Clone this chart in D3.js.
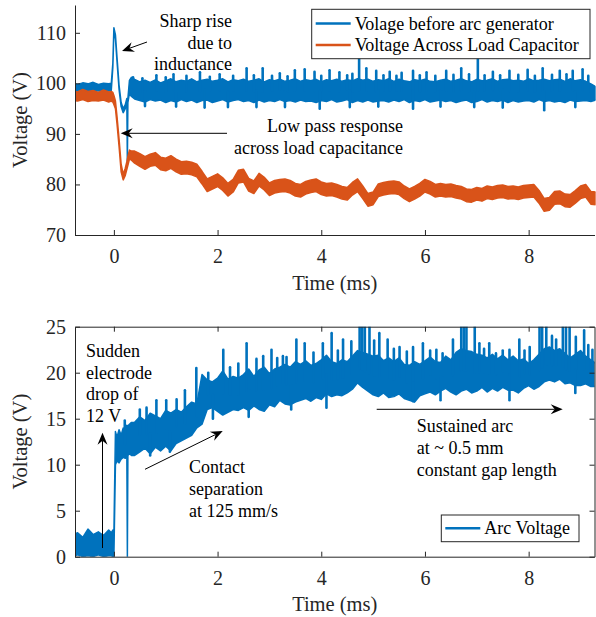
<!DOCTYPE html>
<html><head><meta charset="utf-8">
<script src="https://cdn.jsdelivr.net/npm/d3@7"></script>
<style>
html,body{margin:0;padding:0;background:#fff;}
svg{display:block;}
svg text{font-family:"Liberation Serif","Times New Roman",Times,serif;}
</style></head><body>
<svg id="chart" width="596" height="617" font-family='"Liberation Serif","Times New Roman",serif'></svg>
<script>
// ---------------- DATA ----------------
// sample times (ms): pre-event, transient, steady part
const preTimes = d3.range(-0.8, -0.05, 0.1);                       // 8 samples
const stepTimes = [-0.05,-0.02,0,0.03,0.06,0.1,0.14,0.18,0.22,0.25,0.26,0.27,0.3,0.34]; // 14
const mainTimes = d3.range(0.4, 9.35, 0.1);                        // 90 samples
const times = preTimes.concat(stepTimes, mainTimes);

// Volage before arc generator (V): dense core of the noisy trace (upper / lower)
const blueHi = [
 100.0, 99.8,100.1, 99.9,100.2, 99.8,100.0, 99.9,
 100.0,104.0,111.0,109.6,105.2, 99.6, 96.2, 95.0, 95.8, 97.0, 96.6, 97.0,100.6,101.2,
 100.8,100.3,100.6,100.2,100.7,100.1,100.5,100.9,100.3,100.6,
 100.4,100.9,100.3,100.6,100.8,100.4,100.6,100.9,100.3,100.7,
 100.5,100.8,100.4,100.6,100.9,100.3,100.7,100.5,100.8,100.4,
 100.6,100.9,100.4,100.7,100.5,100.8,100.3,100.7,100.5,100.8,
 100.4,100.7,100.5,100.9,100.6,100.8,100.4,100.7,100.5,100.9,
 100.4,100.8,100.5,100.3,100.7,100.5,100.8,100.4,100.3,100.6,
 100.8,100.4,100.6,100.9,100.5,100.3,100.8,100.5,100.6,100.9,
 100.4,100.7,100.8,100.5,100.6,100.4,100.9,100.5,100.6,100.8,
 100.5,100.7,100.8,100.4,100.9,100.5,100.7,100.4, 99.9, 99.3];
const blueLo = [
  98.6, 98.5, 98.7, 98.4, 98.6, 98.5, 98.6, 98.5,
  98.6,103.2,110.2,108.8,104.4, 98.8, 95.4, 94.2, 95.0, 96.2, 84.0, 96.2, 98.0, 97.4,
  96.9, 96.6, 96.3, 96.8, 96.5, 96.7, 96.2, 96.6, 96.3, 96.8,
  96.4, 96.7, 96.2, 96.6, 96.7, 96.2, 96.5, 96.8, 96.3, 96.6,
  96.8, 96.4, 96.6, 96.2, 96.7, 96.3, 96.6, 96.4, 96.8, 96.4,
  96.6, 96.3, 96.7, 96.4, 96.5, 96.2, 96.6, 96.4, 96.8, 96.3,
  96.5, 96.8, 96.2, 96.6, 96.3, 96.7, 96.3, 96.5, 96.6, 96.3,
  96.7, 96.4, 96.8, 96.2, 96.6, 96.4, 96.8, 96.3, 96.5, 96.7,
  96.4, 96.6, 96.2, 96.5, 96.7, 96.2, 96.4, 96.8, 96.3, 96.6,
  96.4, 96.7, 96.2, 96.6, 96.3, 96.5, 96.6, 96.3, 96.8, 96.4,
  96.6, 96.3, 96.5, 96.2, 96.7, 96.4, 96.5, 96.6, 96.4, 96.7];
// thin noise spikes of the same trace: time (ms) and tip value (V)
const blueSpikeT = [0.37,0.55,0.82,1.0,1.15,1.4,1.66,1.85,2.04,2.3,2.56,2.7,2.87,3.05,3.2,3.35,3.49,3.68,
  3.87,4.0,4.16,4.35,4.5,4.6,4.73,4.87,5.06,5.2,5.32,5.45,5.55,5.77,5.9,6.03,6.2,6.41,6.55,6.7,6.85,
  7.02,7.15,7.31,7.45,7.63,7.8,7.98,8.12,8.27,8.45,8.6,8.73,8.85,9.04,9.15,
  0.6,1.2,1.75,2.2,2.75,3.3,3.97,4.55,5.1,5.77,6.3,6.95,7.5,8.3,8.9];
const blueSpikeV = [101.2,101.0,101.6,101.2,101.8,101.5,102.2,101.3,101.8,101.5,103.0,101.6,103.0,101.5,
  102.0,101.4,102.6,102.8,102.3,101.5,102.6,102.2,101.6,101.9,104.8,103.0,102.5,101.6,102.3,101.5,102.1,
  102.5,101.6,102.2,101.5,102.5,101.7,103.0,101.8,104.8,101.6,102.3,101.6,102.5,101.7,102.7,101.5,103.0,
  101.7,102.5,101.8,102.5,102.8,101.5,
  95.5,95.4,95.2,95.3,95.3,95.3,95.0,95.3,95.4,95.0,95.4,95.3,95.2,94.7,95.3];

// Voltage Across Load Capacitor (V)
const orangeHi = [
  98.5, 98.3, 98.8, 98.4, 98.6, 98.2, 98.7, 98.3,
  98.4, 98.2, 97.6, 96.5, 93.5, 89.0, 84.0, 82.0, 83.2, 84.5, 85.0, 85.5, 86.8, 86.6,
  86.6, 86.1, 85.5, 86.0, 86.3, 85.4, 85.2, 85.7, 85.0, 84.5,
  84.6, 84.4, 84.0, 82.6, 81.1, 81.6, 82.1, 81.3, 80.2, 81.0,
  82.8, 83.0, 81.2, 80.7, 82.2, 81.4, 80.3, 80.8, 81.0, 81.1,
  80.8, 80.2, 80.0, 80.6, 80.9, 81.1, 80.5, 80.2, 80.3, 80.0,
  79.6, 79.4, 80.4, 81.1, 79.7, 78.2, 78.5, 80.1, 80.4, 80.6,
  80.7, 80.5, 79.7, 79.1, 79.6, 80.2, 81.0, 80.6, 80.0, 80.2,
  80.0, 80.1, 79.8, 79.6, 79.1, 79.0, 79.4, 79.2, 79.7, 79.5,
  79.8, 79.9, 79.6, 79.7, 79.5, 79.8, 79.9, 80.0, 78.8, 77.2,
  77.4, 78.6, 78.7, 78.1, 78.0, 78.8, 79.7, 80.0, 78.6, 78.5];
const orangeLo = [
  96.6, 96.5, 96.8, 96.4, 96.6, 96.5, 96.7, 96.3,
  96.5, 96.3, 95.8, 95.0, 92.0, 87.5, 82.5, 80.9, 81.8, 83.0, 83.4, 83.8, 85.0, 84.8,
  84.2, 83.6, 83.0, 83.6, 83.8, 82.9, 82.7, 83.2, 82.5, 82.0,
  82.1, 81.9, 81.5, 80.1, 78.6, 79.1, 79.6, 78.8, 77.7, 78.5,
  80.3, 80.5, 78.7, 78.2, 79.7, 78.9, 77.8, 78.3, 78.5, 78.6,
  78.3, 77.7, 77.5, 78.1, 78.4, 78.6, 78.0, 77.7, 77.8, 77.5,
  77.1, 76.9, 77.9, 78.6, 77.2, 75.7, 76.0, 77.6, 77.9, 78.1,
  78.2, 78.0, 77.2, 76.6, 77.1, 77.7, 78.5, 78.1, 77.5, 77.7,
  77.5, 77.6, 77.3, 77.1, 76.6, 76.5, 76.9, 76.7, 77.2, 77.0,
  77.3, 77.4, 77.1, 77.2, 77.0, 77.3, 77.4, 77.5, 76.3, 74.7,
  74.9, 76.1, 76.2, 75.6, 75.5, 76.3, 77.2, 77.5, 76.1, 76.0];

// Arc Voltage (V): dense core
const arcHi = [
   2.3,  2.6,  2.1,  3.0,  2.4,  2.7,  2.3,  2.9,
   2.6,  2.9,  2.5, 13.6, 13.0, 13.8, 13.2, 14.0, 13.5, 14.3, 14.0, 14.2, 14.4, 14.6,
  14.6, 15.2, 14.8, 15.6, 15.3, 15.0, 15.9, 15.6, 16.0, 15.7,
  16.3, 16.8, 16.6, 19.8, 19.2, 19.0, 19.4, 20.2, 19.3, 19.6,
  19.4, 19.8, 20.4, 19.6, 20.3, 20.6, 19.9, 20.4, 20.6, 20.9,
  20.6, 21.2, 20.9, 21.3, 20.8, 21.0, 21.4, 21.9, 21.2, 21.0,
  21.4, 21.2, 21.8, 22.4, 22.2, 22.0, 21.8, 21.9, 21.3, 21.6,
  21.2, 21.6, 20.9, 20.8, 21.2, 20.9, 21.3, 21.7, 21.2, 21.1,
  21.8, 21.4, 22.2, 22.6, 22.4, 22.3, 22.0, 21.9, 21.6, 22.0,
  21.5, 21.9, 21.4, 21.8, 21.3, 21.5, 21.0, 21.4, 22.0, 22.6,
  22.8, 22.4, 22.6, 22.1, 21.6, 22.0, 22.4, 21.8, 21.4, 21.0];
const arcLo = [
   0.0,  0.2,  0.0,  0.1,  0.0,  0.2,  0.0,  0.1,
   0.1,  0.0,  0.0, 10.0, 10.4, 10.2, 10.6, 10.8, 10.7, 11.0,  0.0, 11.0, 11.2, 11.0,
  11.0, 11.4, 11.8, 11.2, 11.9, 11.5, 12.0, 11.5, 12.3, 12.6,
  12.9, 13.2, 14.0, 14.4, 16.0, 16.2, 15.8, 15.4, 15.7, 16.0,
  15.9, 16.2, 15.9, 16.4, 16.0, 15.8, 16.5, 16.3, 17.0, 16.6,
  16.5, 16.8, 17.0, 17.2, 16.9, 17.3, 17.1, 17.7, 17.4, 17.6,
  17.5, 17.8, 18.2, 18.9, 18.4, 18.0, 17.6, 17.4, 17.8, 17.3,
  17.4, 17.7, 17.2, 17.0, 16.8, 17.5, 17.7, 17.9, 17.6, 18.0,
  18.3, 17.9, 17.6, 18.0, 18.2, 17.8, 18.0, 18.4, 17.9, 18.3,
  18.0, 18.4, 18.1, 18.1, 17.8, 18.3, 18.6, 18.2, 18.5, 19.0,
  19.2, 19.0, 19.3, 18.8, 18.9, 18.6, 18.6, 18.8, 18.5, 18.5];
// thin noise spikes of the arc trace: time (ms) and tip value (V)
const arcSpikeT = [0.21,0.5,0.63,0.82,1.01,1.21,1.37,1.59,1.82,2.11,2.24,2.4,2.56,2.75,2.88,3.04,3.15,3.26,
  3.33,3.52,3.68,3.85,4.03,4.2,4.32,4.42,4.58,4.74,4.79,4.84,4.93,5.02,5.12,5.28,5.4,5.51,5.65,5.77,5.96,
  6.1,6.22,6.34,6.54,6.7,6.75,6.8,6.96,7.05,7.14,7.24,7.37,7.5,7.63,7.82,7.92,8.02,8.21,8.26,8.34,8.45,
  8.53,8.66,8.72,8.79,8.91,9.07,9.15,9.23,
  0.7,1.08,1.91,2.6,3.42,4.1,5.77,6.3,7.63,8.9];
const arcSpikeV = [14.8,16.0,16.2,17.0,17.0,17.1,18.1,20.5,20.0,22.5,20.6,21.0,23.2,21.5,21.8,22.5,21.6,21.8,
  21.7,23.6,23.2,22.2,23.2,24.3,22.4,23.6,23.4,26,26,26,26,23.5,24.3,23.6,22.6,22.8,22.3,22.8,23.2,
  22.4,22.5,22.1,23.6,26,26,26,26,23.2,22.6,23.2,22.1,22.4,22.5,23.6,22.4,22.8,26,26,26,24.0,
  23.6,26,26,26,23.9,24.6,23.0,22.5,
  11.0,11.4,15.0,15.2,16.0,16.2,16.9,17.0,17.0,17.8];

const xTicks = [0, 2, 4, 6, 8];
const topYTicks = [70, 80, 90, 100, 110];
const botYTicks = [0, 5, 10, 15, 20, 25];
const topLegend = ["Volage before arc generator", "Voltage Across Load Capacitor"];
const botLegend = ["Arc Voltage"];

// ---------------- DRAWING ----------------
const FONT = '"Liberation Serif","Times New Roman",serif';
const BLUE = "#0072BD", ORANGE = "#D95319", AX = "#262626";
const svg = d3.select("#chart");
const L = 75, R = 594.5;
const pTop = {t: 5, b: 235}, pBot = {t: 326.7, b: 556.7};

const x = d3.scaleLinear().domain([-0.75, 9.27]).range([L, R]);
const yTop = d3.scaleLinear().domain([70, 115.5]).range([pTop.b, pTop.t]);
const yBot = d3.scaleLinear().domain([0, 25]).range([pBot.b, pBot.t]);

const rows = (hi, lo) => times.map((t, i) => ({t, hi: hi[i], lo: lo[i]}));
function coreMid(hi, lo, t) {
  const i = Math.max(1, Math.min(times.length - 1, d3.bisectLeft(times, t)));
  const f = (t - times[i - 1]) / (times[i] - times[i - 1]);
  const m0 = (hi[i - 1] + lo[i - 1]) / 2, m1 = (hi[i] + lo[i]) / 2;
  return m0 + (m1 - m0) * f;
}

const defs = svg.append("defs");
defs.append("clipPath").attr("id", "clipTop").append("rect")
  .attr("x", L).attr("y", pTop.t).attr("width", R - L + 1).attr("height", pTop.b - pTop.t);
defs.append("clipPath").attr("id", "clipBot").append("rect")
  .attr("x", L).attr("y", pBot.t).attr("width", R - L).attr("height", pBot.b - pBot.t);

function band(g, y, hi, lo, color) {
  const area = d3.area().x(d => x(d.t)).y0(d => y(d.lo)).y1(d => y(d.hi));
  g.append("path").attr("d", area(rows(hi, lo)))
    .attr("fill", color).attr("stroke", color).attr("stroke-width", 1.5)
    .attr("stroke-linejoin", "round");
}
function spikes(g, y, hi, lo, st, sv, color) {
  g.append("g").selectAll("line").data(st.map((t, i) => ({t, v: sv[i]}))).join("line")
    .attr("x1", d => x(d.t)).attr("x2", d => x(d.t))
    .attr("y1", d => y(coreMid(hi, lo, d.t))).attr("y2", d => y(d.v))
    .attr("stroke", color).attr("stroke-width", 2.6).attr("stroke-linecap", "round");
}

function styleAxis(g) {
  g.attr("font-family", FONT);
  g.selectAll("path.domain").attr("stroke", AX).attr("stroke-width", 1);
  g.selectAll(".tick line").attr("stroke", AX).attr("stroke-width", 1);
  g.selectAll(".tick text").attr("fill", AX).attr("font-size", 20).attr("font-family", FONT);
}

// ---- top chart ----
const gTopData = svg.append("g").attr("clip-path", "url(#clipTop)");
band(gTopData, yTop, blueHi, blueLo, BLUE);
spikes(gTopData, yTop, blueHi, blueLo, blueSpikeT, blueSpikeV, BLUE);
band(gTopData, yTop, orangeHi, orangeLo, ORANGE);

const gxTop = svg.append("g").attr("transform", `translate(0,${pTop.b})`)
  .call(d3.axisBottom(x).tickValues(xTicks).tickFormat(d3.format("d"))
    .tickSizeInner(-5).tickSizeOuter(0).tickPadding(14));
styleAxis(gxTop);
const gyTop = svg.append("g").attr("transform", `translate(${L},0)`)
  .call(d3.axisLeft(yTop).tickValues(topYTicks).tickSizeInner(-5).tickSizeOuter(0).tickPadding(9));
styleAxis(gyTop);

// ---- bottom chart ----
const gBotData = svg.append("g").attr("clip-path", "url(#clipBot)");
band(gBotData, yBot, arcHi, arcLo, BLUE);
spikes(gBotData, yBot, arcHi, arcLo, arcSpikeT, arcSpikeV, BLUE);

const gxBot = svg.append("g").attr("transform", `translate(0,${pBot.b})`)
  .call(d3.axisBottom(x).tickValues(xTicks).tickFormat(d3.format("d"))
    .tickSizeInner(-5).tickSizeOuter(0).tickPadding(14));
styleAxis(gxBot);
const gxBot2 = svg.append("g").attr("transform", `translate(0,${pBot.t})`)
  .call(d3.axisTop(x).tickValues(xTicks).tickFormat("").tickSizeInner(-5).tickSizeOuter(0));
styleAxis(gxBot2);
const gyBot = svg.append("g").attr("transform", `translate(${L},0)`)
  .call(d3.axisLeft(yBot).tickValues(botYTicks).tickSizeInner(-5).tickSizeOuter(0).tickPadding(9));
styleAxis(gyBot);
const gyBot2 = svg.append("g").attr("transform", `translate(${R},0)`)
  .call(d3.axisRight(yBot).tickValues(botYTicks).tickFormat("").tickSizeInner(-5).tickSizeOuter(0));
styleAxis(gyBot2);

// ---- axis titles ----
function label(txt, px, py, rot) {
  svg.append("text").text(txt).attr("x", px).attr("y", py)
    .attr("transform", rot ? `rotate(-90,${px},${py})` : null)
    .attr("text-anchor", "middle").attr("dominant-baseline", "central")
    .attr("font-family", FONT).attr("font-size", 20.5).attr("fill", AX);
}
label("Time (ms)", (L + R) / 2, pTop.b + 48, false);
label("Time (ms)", (L + R) / 2, pBot.b + 47, false);
label("Voltage (V)", 20, (pTop.t + pTop.b) / 2, true);
label("Voltage (V)", 20, (pBot.t + pBot.b) / 2, true);

// ---- annotations ----
function multiText(lines, px, py, anchor, gap) {
  const t = svg.append("text").attr("font-size", 18).attr("fill", "#000")
    .attr("font-family", FONT).attr("text-anchor", anchor);
  lines.forEach((s, i) => t.append("tspan").attr("x", px).attr("y", py + i * gap)
    .attr("dominant-baseline", "central").text(s));
}
function arrow(x1, y1, x2, y2) {
  const g = svg.append("g");
  const a = Math.atan2(y2 - y1, x2 - x1) * 180 / Math.PI;
  const len = Math.hypot(x2 - x1, y2 - y1);
  const ux = (x2 - x1) / len, uy = (y2 - y1) / len;
  g.append("line").attr("x1", x1).attr("y1", y1)
    .attr("x2", x2 - ux * 8).attr("y2", y2 - uy * 8)
    .attr("stroke", "#000").attr("stroke-width", 1);
  g.append("path").attr("d", "M0,0 L-12,-5 L-8,0 L-12,5 Z")
    .attr("transform", `translate(${x2},${y2}) rotate(${a})`).attr("fill", "#000");
}

multiText(["Sharp rise", "due to", "inductance"], 232, 21, "end", 21.5);
arrow(147, 42, 122, 51);
multiText(["Low pass response", "across load capacitance"], 403, 126, "end", 21.5);
arrow(227, 133.3, 120.7, 133.3);

multiText(["Sudden", "electrode", "drop of", "12 V"], 86, 350.7, "start", 21.8);
arrow(102.5, 548, 102.5, 432.7);
multiText(["Contact", "separation", "at 125 mm/s"], 189, 466.7, "start", 22);
arrow(145, 469.3, 222.7, 431);
multiText(["Sustained arc", "at ~ 0.5 mm", "constant gap length"], 416.7, 426, "start", 22);
arrow(376.7, 409.3, 562.7, 409.3);

// ---- legends ----
function legend(items, colors, bx, by, bw, bh, rowY) {
  const g = svg.append("g");
  g.append("rect").attr("x", bx).attr("y", by).attr("width", bw).attr("height", bh)
    .attr("fill", "#fff").attr("stroke", AX).attr("stroke-width", 1);
  items.forEach((s, i) => {
    g.append("line").attr("x1", bx + 4).attr("x2", bx + 39)
      .attr("y1", rowY[i]).attr("y2", rowY[i])
      .attr("stroke", colors[i]).attr("stroke-width", 2.5);
    g.append("text").attr("x", bx + 43).attr("y", rowY[i])
      .attr("dominant-baseline", "central").attr("font-family", FONT)
      .attr("font-size", 18).attr("fill", "#000").text(s);
  });
}
legend(topLegend, [BLUE, ORANGE], 311.7, 9.3, 278.3, 49.4, [23.5, 45]);
legend(botLegend, [BLUE], 441.3, 515, 137.7, 26.7, [528.3]);
</script>
</body></html>
